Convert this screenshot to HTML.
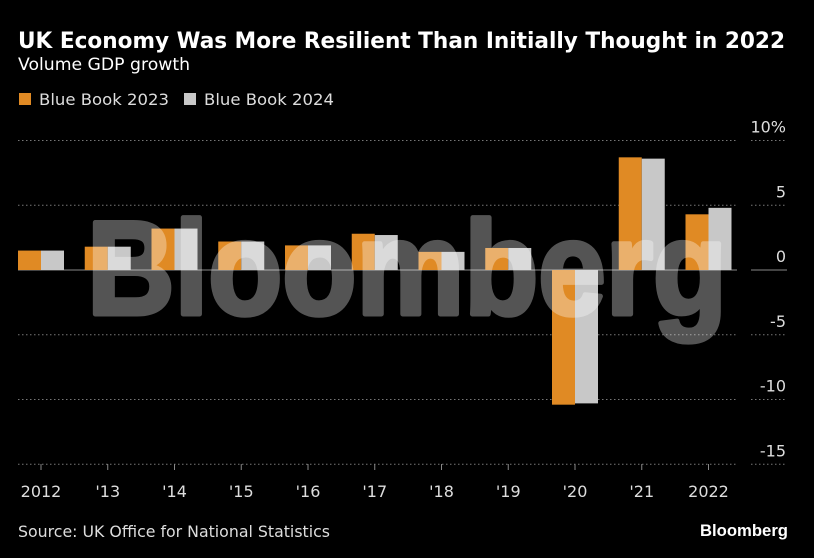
<!DOCTYPE html>
<html><head><meta charset="utf-8"><style>
html,body{margin:0;padding:0;background:#000;}
svg{display:block;font-family:"DejaVu Sans","Liberation Sans",sans-serif;}
</style></head><body>
<svg id="chart" width="814" height="558" xmlns="http://www.w3.org/2000/svg">
<rect width="814" height="558" fill="#000"/>
<text x="18" y="48" font-size="22" font-weight="bold" fill="#fff" textLength="767" lengthAdjust="spacingAndGlyphs">UK Economy Was More Resilient Than Initially Thought in 2022</text>
<text x="18" y="70" font-size="17" fill="#fff" textLength="172" lengthAdjust="spacingAndGlyphs">Volume GDP growth</text>
<g>
<rect x="19" y="93" width="12" height="12" fill="#e08a24"/>
<text x="39" y="105" font-size="16" fill="#ddd" textLength="130" lengthAdjust="spacingAndGlyphs">Blue Book 2023</text>
<rect x="184" y="93" width="12" height="12" fill="#c8c8c8"/>
<text x="204" y="105" font-size="16" fill="#ddd" textLength="130" lengthAdjust="spacingAndGlyphs">Blue Book 2024</text>
</g>
<g id="grid"></g>
<g id="bars"></g>
<g opacity="0.33">
<text x="87" y="314" font-size="133" font-weight="bold" fill="#fff" stroke="#fff" stroke-width="5" stroke-linejoin="round" textLength="640" lengthAdjust="spacingAndGlyphs" font-family="Liberation Sans, sans-serif">Bloomberg</text>
</g>
<g id="xlabels"></g>
<text x="18" y="537" font-size="16" fill="#ddd" textLength="312" lengthAdjust="spacingAndGlyphs">Source: UK Office for National Statistics</text>
<text x="788" y="536" font-size="17" font-weight="bold" fill="#fff" text-anchor="end" textLength="88" lengthAdjust="spacingAndGlyphs" font-family="Liberation Sans, sans-serif">Bloomberg</text>
</svg>
<script>
const categories = ["2012","'13","'14","'15","'16","'17","'18","'19","'20","'21","2022"];
const bb2023 = [1.5, 1.8, 3.2, 2.2, 1.9, 2.8, 1.4, 1.7, -10.4, 8.7, 4.3];
const bb2024 = [1.5, 1.8, 3.2, 2.2, 1.9, 2.7, 1.4, 1.7, -10.3, 8.6, 4.8];
const yTicks = [10, 5, 0, -5, -10, -15];
const yTickLabels = ["10%", "5", "0", "-5", "-10", "-15"];

const NS = "http://www.w3.org/2000/svg";
const y = v => 270 - v * 12.95;
const groupX = i => 18 + i * 66.75;
const barW = 23;
function mk(tag, attrs, parent){ const e = document.createElementNS(NS, tag); for (const k in attrs) e.setAttribute(k, attrs[k]); parent.appendChild(e); return e; }
const grid = document.getElementById('grid');
yTicks.forEach((t, i) => {
  const yy = y(t);
  if (t === 0) {
    const l1 = mk('line', {x1:18, x2:737, y1:yy, y2:yy, stroke:'#888', 'stroke-width':1}, grid);
    
    
    const l2 = mk('line', {x1:751, x2:787, y1:yy, y2:yy, stroke:'#888', 'stroke-width':1}, grid);
    
    
  } else {
    const l1 = mk('line', {x1:18, x2:737, y1:yy, y2:yy, stroke:'#777', 'stroke-width':1, 'stroke-dasharray':'1.5,2.5'}, grid);
    
    
    const l2 = mk('line', {x1:751, x2:787, y1:yy, y2:yy, stroke:'#777', 'stroke-width':1, 'stroke-dasharray':'1.5,2.5'}, grid);
    
    
  }
  const tx = mk('text', {x:786, y:yy - 8, 'font-size':16, fill:'#ddd', 'text-anchor':'end'}, grid);
  tx.textContent = yTickLabels[i];
  
  
});
const bars = document.getElementById('bars');
const xl = document.getElementById('xlabels');
categories.forEach((c, i) => {
  const gx = groupX(i);
  const v1 = bb2023[i], v2 = bb2024[i];
  const b1 = mk('rect', {x:gx, y:Math.min(y(v1), y(0)), width:barW, height:Math.abs(y(v1) - y(0)), fill:'#e08a24'}, bars);
  
  
  const b2 = mk('rect', {x:gx + barW, y:Math.min(y(v2), y(0)), width:barW, height:Math.abs(y(v2) - y(0)), fill:'#c8c8c8'}, bars);
  
  
  const tk = mk('line', {x1:gx + barW, x2:gx + barW, y1:464, y2:470, stroke:'#888'}, xl);
  
  
  const t = mk('text', {x:gx + barW, y:497, 'font-size':16, fill:'#ddd', 'text-anchor':'middle'}, xl);
  t.textContent = c;
  
  
});
</script>
</body></html>
